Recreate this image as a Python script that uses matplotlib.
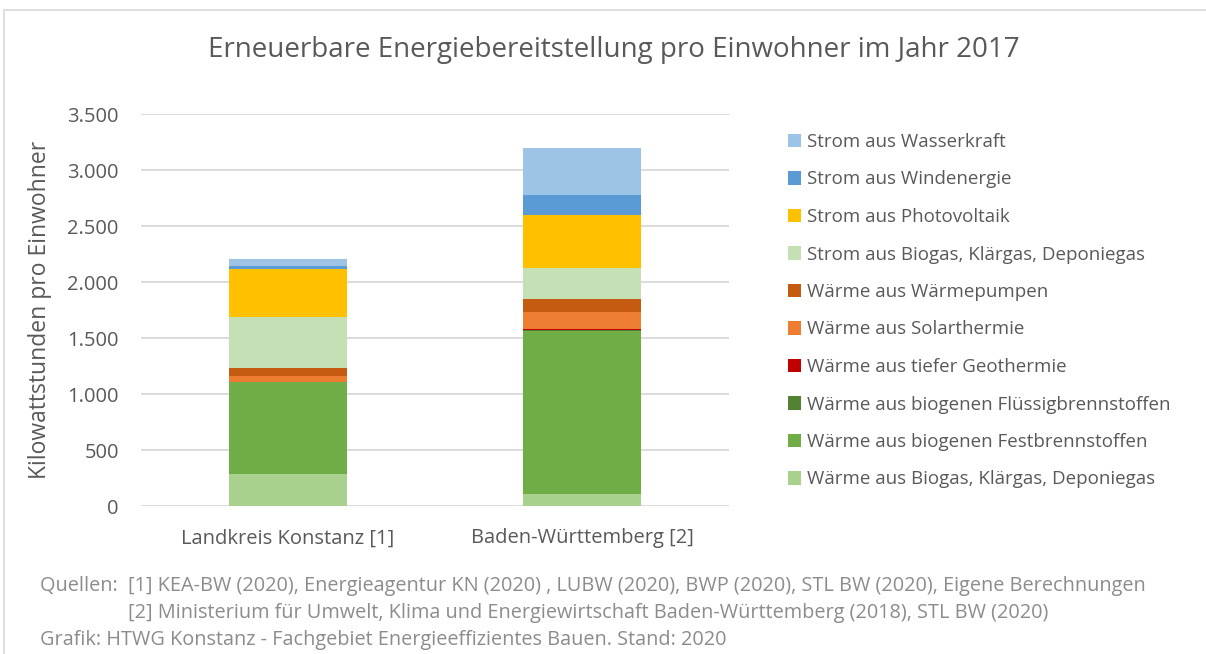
import numpy as np
import matplotlib
matplotlib.use("Agg")
import matplotlib.pyplot as plt
from matplotlib.patches import Rectangle, Patch

plt.rcParams['font.family'] = ['Open Sans', 'DejaVu Sans']

regions = ['Landkreis Konstanz [1]', 'Baden-Württemberg [2]']

# stacking order bottom -> top
series = [
    'Wärme aus Biogas, Klärgas, Deponiegas',
    'Wärme aus biogenen Festbrennstoffen',
    'Wärme aus biogenen Flüssigbrennstoffen',
    'Wärme aus tiefer Geothermie',
    'Wärme aus Solarthermie',
    'Wärme aus Wärmepumpen',
    'Strom aus Biogas, Klärgas, Deponiegas',
    'Strom aus Photovoltaik',
    'Strom aus Windenergie',
    'Strom aus Wasserkraft',
]
values_kn = [286, 818, 0, 0, 57, 71, 458, 426, 27, 60]
values_bw = [107, 1458, 9, 9, 149, 116, 280, 473, 176, 416]
colors = ['#A9D18E', '#70AD47', '#548235', '#C00000', '#ED7D31',
          '#C55A11', '#C5E0B4', '#FFC000', '#5B9BD5', '#9DC3E6']

text_col = '#595959'

fig = plt.figure(figsize=(12.06, 6.54), dpi=100)
ax = fig.add_axes([141 / 1206, 1 - 506 / 654, 588 / 1206, 392 / 654])

x = np.arange(len(regions))
bottom = np.zeros(len(regions))
handles = []
for name, kn, bw, c in zip(series, values_kn, values_bw, colors):
    vals = np.array([kn, bw], dtype=float)
    ax.bar(x, vals, width=0.4, bottom=bottom, color=c, edgecolor='none', zorder=3)
    bottom += vals
    handles.append(Patch(facecolor=c, edgecolor='none', label=name))

ax.set_xlim(-0.5, 1.5)
ax.set_ylim(0, 3500)
ax.set_yticks(np.arange(0, 3501, 500))
ax.set_yticklabels([f'{v:,}'.replace(',', '.') for v in range(0, 3501, 500)])
ax.set_xticks(x)
ax.set_xticklabels(regions)
ax.tick_params(axis='both', length=0, labelsize=14.5, colors=text_col)
ax.tick_params(axis='y', pad=16)
ax.tick_params(axis='x', pad=16)
ax.grid(axis='y', color='#D9D9D9', linewidth=1.3, zorder=0)
for s in ax.spines.values():
    s.set_visible(False)
ax.set_ylabel('Kilowattstunden pro Einwohner', fontsize=16.5, color=text_col, labelpad=11)

fig.text(614 / 1206, 1 - 50 / 654, 'Erneuerbare Energiebereitstellung pro Einwohner im Jahr 2017',
         ha='center', va='center', fontsize=20, color=text_col)

leg = fig.legend(handles=handles[::-1], loc='upper left',
                 bbox_to_anchor=(788 / 1206, 1 - 133 / 654), frameon=False,
                 fontsize=13.5, labelspacing=1.04, handlelength=0.7, handleheight=0.7,
                 handletextpad=0.3, borderaxespad=0, borderpad=0)
for t in leg.get_texts():
    t.set_color(text_col)

foot_col = '#8C8C8C'
fig.text(40 / 1206, 1 - 586 / 654, 'Quellen:  [1] KEA-BW (2020), Energieagentur KN (2020) , LUBW (2020), BWP (2020), STL BW (2020), Eigene Berechnungen',
         ha='left', va='center', fontsize=14.3, color=foot_col)
fig.text(128 / 1206, 1 - 613 / 654, '[2] Ministerium für Umwelt, Klima und Energiewirtschaft Baden-Württemberg (2018), STL BW (2020)',
         ha='left', va='center', fontsize=14.3, color=foot_col)
fig.text(40 / 1206, 1 - 640 / 654, 'Grafik: HTWG Konstanz - Fachgebiet Energieeffizientes Bauen. Stand: 2020',
         ha='left', va='center', fontsize=14.3, color=foot_col)

# light frame of the chart area
fig.patches.append(Rectangle((4 / 1206, -0.1), 1.2, 1.1 - 10 / 654, transform=fig.transFigure,
                             fill=False, edgecolor='#D9D9D9', linewidth=1.2))

fig.savefig('out.png', dpi=100)
